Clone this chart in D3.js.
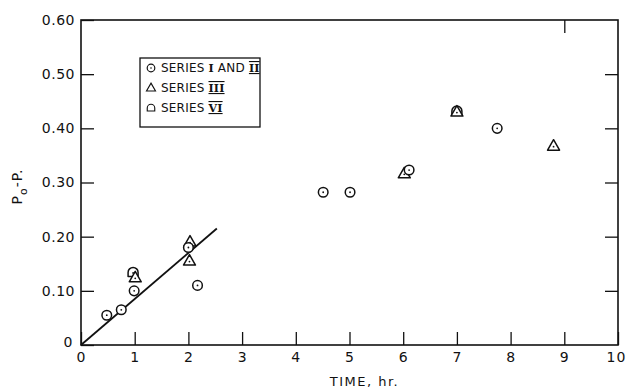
<!DOCTYPE html>
<html>
<head>
<meta charset="utf-8">
<script src="https://cdn.jsdelivr.net/npm/d3@7"></script>
<style>
  html, body { margin: 0; padding: 0; background: #fff; }
  svg text { font-family: "DejaVu Sans", sans-serif; fill: #111; }
</style>
</head>
<body>
<div id="chart"></div>
<script>
// series values (time in hr, Po - P)
const series12Time = [0.48, 0.75, 0.99, 2.0, 2.17, 4.51, 5.01, 6.11, 7.75];
const series12Val  = [0.055, 0.065, 0.10, 0.18, 0.11, 0.282, 0.282, 0.323, 0.40];
const series3Time  = [1.01, 2.02, 2.03, 6.02, 7.0, 8.8];
const series3Val   = [0.124, 0.155, 0.19, 0.316, 0.43, 0.367];
const series6Time  = [0.97, 7.0];
const series6Val   = [0.134, 0.432];
const fitTime = [0, 2.53];
const fitVal  = [0, 0.215];
const xTicks = [0, 1, 2, 3, 4, 5, 6, 7, 8, 9, 10];
const yTicks = [0, 0.1, 0.2, 0.3, 0.4, 0.5, 0.6];
const topTicks = [9];

const width = 626, height = 390;
const margin = { top: 20, right: 8, bottom: 45, left: 81 };

const svg = d3.select('#chart').append('svg')
  .attr('width', width)
  .attr('height', height);

const x = d3.scaleLinear().domain([0, 10]).range([margin.left, width - margin.right]);
const y = d3.scaleLinear().domain([0, 0.6]).range([height - margin.bottom, margin.top]);

const ink = '#111';

// bottom axis, ticks pointing inward
const gx = svg.append('g')
  .attr('transform', `translate(0,${y(0)})`)
  .call(d3.axisBottom(x).tickValues(xTicks).tickSizeInner(-13).tickSizeOuter(0).tickPadding(7).tickFormat(d3.format('d')));
gx.select('.domain').remove();
gx.selectAll('.tick line').attr('stroke', ink).attr('stroke-width', 1.3);
gx.selectAll('text').style('font-size', '14px').attr('letter-spacing', '1px');
gx.selectAll('.tick').filter(d => d === 10).select('text').attr('x', -2);

// left axis
const gy = svg.append('g')
  .attr('transform', `translate(${x(0)},0)`)
  .call(d3.axisLeft(y).tickValues(yTicks).tickSizeInner(-13).tickSizeOuter(0).tickPadding(6)
    .tickFormat(d => d === 0 ? '0' : d3.format('.2f')(d)));
gy.select('.domain').remove();
gy.selectAll('.tick line').attr('stroke', ink).attr('stroke-width', 1.3);
gy.selectAll('text').style('font-size', '14px').attr('letter-spacing', '0.5px');
gy.selectAll('.tick').filter(d => d === 0).select('text').attr('x', -8).attr('dy', '0.1em');

// right axis ticks (no labels)
const gr = svg.append('g')
  .attr('transform', `translate(${x(10)},0)`)
  .call(d3.axisRight(y).tickValues(yTicks.slice(1, -1)).tickSizeInner(-13).tickSizeOuter(0).tickFormat(''));
gr.select('.domain').remove();
gr.selectAll('.tick line').attr('stroke', ink).attr('stroke-width', 1.3);

// top axis ticks
const gt = svg.append('g')
  .attr('transform', `translate(0,${y(0.6)})`)
  .call(d3.axisTop(x).tickValues(topTicks).tickSizeInner(-13).tickSizeOuter(0).tickFormat(''));
gt.select('.domain').remove();
gt.selectAll('.tick line').attr('stroke', ink).attr('stroke-width', 1.3);

// frame
svg.append('rect')
  .attr('x', x(0)).attr('y', y(0.6))
  .attr('width', x(10) - x(0)).attr('height', y(0) - y(0.6))
  .attr('fill', 'none').attr('stroke', ink).attr('stroke-width', 1.6);

// axis titles
svg.append('text')
  .attr('x', (x(0) + x(10)) / 2 + 15).attr('y', 386)
  .attr('text-anchor', 'middle')
  .attr('letter-spacing', '1.5px')
  .style('font-size', '13px')
  .text('TIME, hr.');

const yl = svg.append('text')
  .attr('transform', `translate(22,${y(0.3) + 4}) rotate(-90)`)
  .attr('text-anchor', 'middle')
  .attr('letter-spacing', '1px')
  .style('font-size', '14px');
yl.append('tspan').text('P');
yl.append('tspan').attr('dy', 5).style('font-size', '11px').text('o');
yl.append('tspan').attr('dy', -5).text('-P.');

// fitted line
svg.append('path')
  .datum(fitTime.map((t, i) => [t, fitVal[i]]))
  .attr('d', d3.line().x(d => x(d[0])).y(d => y(d[1])))
  .attr('fill', 'none').attr('stroke', ink).attr('stroke-width', 1.8);

// marker shapes
const tri = 'M0,-6.5L6,4L-6,4Z';
const house = 'M-5,4L5,4L5,0A5,5 0 0 0 -5,0Z';

function drawCircle(g, cx, cy) {
  g.append('circle').attr('cx', cx).attr('cy', cy).attr('r', 4.8)
    .attr('fill', '#fff').attr('stroke', ink).attr('stroke-width', 1.5);
  g.append('circle').attr('cx', cx).attr('cy', cy).attr('r', 0.9).attr('fill', ink);
}
function drawPath(g, cx, cy, d) {
  g.append('path').attr('d', d).attr('transform', `translate(${cx},${cy})`)
    .attr('fill', '#fff').attr('stroke', ink).attr('stroke-width', 1.5).attr('stroke-linejoin', 'round');
  g.append('circle').attr('cx', cx).attr('cy', cy + 0.5).attr('r', 0.9).attr('fill', ink);
}

const pts = svg.append('g');
series6Time.forEach((t, i) => drawPath(pts, x(t), y(series6Val[i]), house));
series3Time.forEach((t, i) => drawPath(pts, x(t), y(series3Val[i]), tri));
series12Time.forEach((t, i) => drawCircle(pts, x(t), y(series12Val[i])));

// legend
const legend = svg.append('g');
legend.append('rect')
  .attr('x', 140).attr('y', 58).attr('width', 120).attr('height', 69)
  .attr('fill', '#fff').attr('stroke', ink).attr('stroke-width', 1.3);

const legendNames = [['SERIES ', 'I', ' AND ', 'II'], ['SERIES ', 'III'], ['SERIES ', 'VI']];
const legendY = [72, 92, 112];
const legendShapes = ['circle', tri, house];

legendNames.forEach((parts, i) => {
  const ly = legendY[i];
  if (legendShapes[i] === 'circle') {
    legend.append('circle').attr('cx', 151).attr('cy', ly - 4).attr('r', 3.8)
      .attr('fill', 'none').attr('stroke', ink).attr('stroke-width', 1.2);
    legend.append('circle').attr('cx', 151).attr('cy', ly - 4).attr('r', 0.8).attr('fill', ink);
  } else {
    legend.append('path').attr('d', legendShapes[i])
      .attr('transform', `translate(151,${ly - 4}) scale(0.75)`)
      .attr('fill', 'none').attr('stroke', ink).attr('stroke-width', 1.5);
  }
  const t = legend.append('text').attr('x', 161).attr('y', ly)
    .style('font-size', '12px').attr('letter-spacing', '0.2px');
  parts.forEach((p, j) => {
    const ts = t.append('tspan').text(p);
    if (j % 2 === 1) {
      ts.style('font-family', '"DejaVu Serif", serif').style('font-weight', 'bold')
        .style('font-size', '11px')
        .style('text-decoration', p === 'I' ? 'none' : 'overline underline');
    }
  });
});
</script>
</body>
</html>
